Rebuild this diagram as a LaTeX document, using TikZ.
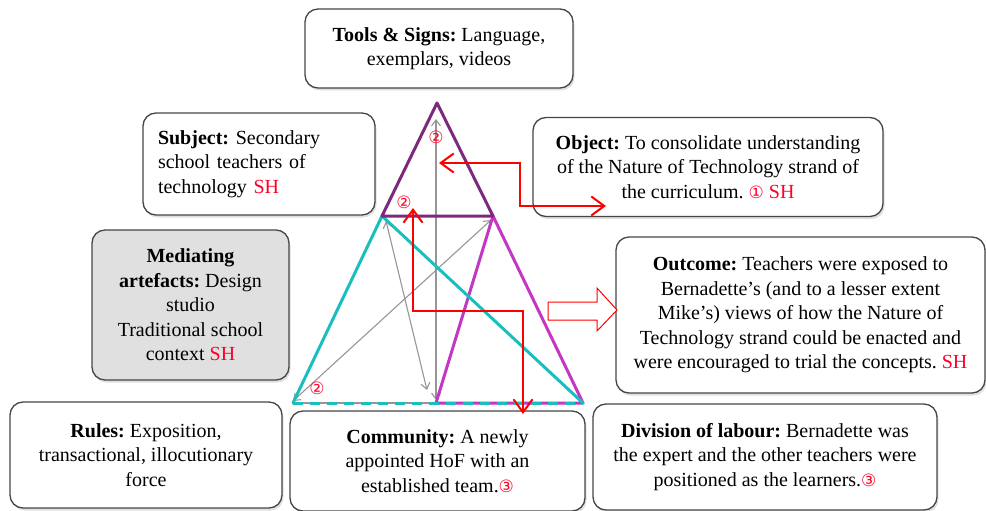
\documentclass[tikz,border=0pt]{standalone}
\usepackage{fontspec}
\setmainfont{Liberation Serif}
\newfontfamily\symf{DejaVu Sans}
\usetikzlibrary{arrows.meta,shadows}
\definecolor{trpurple}{RGB}{125,40,125}
\definecolor{trcyan}{RGB}{25,190,190}
\definecolor{trmag}{RGB}{195,55,195}
\definecolor{boxgray}{RGB}{224,224,224}
\definecolor{bordergray}{RGB}{70,70,70}
\definecolor{arrgray}{RGB}{150,150,150}
\definecolor{shred}{RGB}{255,0,40}
\newcommand{\circnum}[1]{{\symf\fontsize{17}{17}\selectfont\textcolor{shred}{#1}}}
\newcommand{\shmark}{\textcolor{shred}{SH}}
\frenchspacing
\begin{document}
\begin{tikzpicture}[x=1pt,y=-1pt,
  infobox/.style={draw=bordergray, line width=1.3pt, rounded corners=13pt, fill=white,
    drop shadow={shadow xshift=1.5pt, shadow yshift=-2.5pt, opacity=0.25},
    inner sep=0pt, font=\fontsize{20}{24.5}\selectfont\frenchspacing, align=center},
  grayarr/.style={draw=arrgray, line width=1.1pt, {Straight Barb[length=6pt,width=9pt]}-{Straight Barb[length=6pt,width=9pt]}},
  redarr/.style={draw=red, line width=2pt, {Straight Barb[length=13pt,width=19pt]}-{Straight Barb[length=13pt,width=19pt]}},
  triline/.style={line width=3pt, line cap=round, line join=round},
  numlabel/.style={inner sep=0pt}
]
\useasboundingbox (0,0) rectangle (986,511);

% boxes
\node[infobox, minimum width=268, minimum height=79] (tools) at (439,48.5)
  {\textbf{Tools \& Signs:} Language,\\ exemplars, videos};
\node[infobox, minimum width=232, minimum height=102, align=left, text width=202] (subject) at (259,164)
  {\textbf{Subject:} Secondary\\ school teachers of\\ technology \shmark};
\node[infobox, minimum width=350, minimum height=99] (object) at (708,167)
  {\textbf{Object:} To consolidate understanding\\ of the Nature of Technology strand of\\ the curriculum. \circnum{①} \shmark};
\node[infobox, fill=boxgray, minimum width=197, minimum height=150] (mediating) at (190.5,305)
  {\textbf{Mediating}\\ \textbf{artefacts:} Design\\ studio\\ Traditional school\\ context \shmark};
\node[infobox, minimum width=369, minimum height=156] (outcome) at (800.5,315)
  {\textbf{Outcome:} Teachers were exposed to\\ Bernadette’s (and to a lesser extent\\ Mike’s) views of how the Nature of\\ Technology strand could be enacted and\\ were encouraged to trial the concepts. \shmark};
\node[infobox, minimum width=272, minimum height=106] (rules) at (146,455)
  {\textbf{Rules:} Exposition,\\ transactional, illocutionary\\ force};
\node[infobox, minimum width=295, minimum height=100] (community) at (437.5,461)
  {\textbf{Community:} A newly\\ appointed HoF with an\\ established team.\circnum{③}};
\node[infobox, minimum width=344, minimum height=106] (division) at (765,457)
  {\textbf{Division of labour:} Bernadette was\\ the expert and the other teachers were\\ positioned as the learners.\circnum{③}};

% triangle vertices
\coordinate (apex) at (437,103);
\coordinate (pl) at (382,216);
\coordinate (pr) at (493,216);
\coordinate (bl) at (293,403);
\coordinate (bm) at (436,403);
\coordinate (br) at (583,403);

% gray arrows
\coordinate (gv1) at (436,119);
\coordinate (gv2) at (436,400);
\coordinate (gd1) at (386,221);
\coordinate (gd2) at (427,390);
\coordinate (ge1) at (293,401);
\coordinate (ge2) at (491,220);
\draw[grayarr] (gv1) -- (gv2);
\draw[grayarr] (gd1) -- (gd2);
\draw[grayarr] (ge1) -- (ge2);
\draw[arrgray, line width=1.2pt] (bl) -- (bm);

% triangles
\draw[triline, trmag] (pr) -- (br) -- (bm) -- cycle;
\draw[triline, trcyan] (bl) -- (pl) -- (br);
\draw[line width=3pt, trcyan, dash pattern=on 10pt off 7pt] (bl) -- (br);
\draw[triline, trpurple] (apex) -- (pl) -- (pr) -- cycle;

% outcome block arrow
\draw[red, fill=white, line width=1pt, line join=miter]
  (548,302) -- (597,302) -- (597,288) -- (617,310) -- (597,331) -- (597,320) -- (548,320) -- cycle;

% red arrows
\coordinate (ra1) at (439,163);
\coordinate (jog1) at (520,185);
\coordinate (ra2) at (606,206);
\draw[redarr] (ra1) -| (jog1) |- (ra2);
\coordinate (rb1) at (413,208);
\coordinate (jog2) at (468,311);
\coordinate (rb2) at (523,414);
\draw[redarr] (rb1) |- (jog2) -| (rb2);

% circled labels
\node[numlabel] (n1) at (436,137) {\circnum{②}};
\node[numlabel] (n2) at (404,202) {\circnum{②}};
\node[numlabel] (n3) at (317,388) {\circnum{②}};
\end{tikzpicture}
\end{document}
